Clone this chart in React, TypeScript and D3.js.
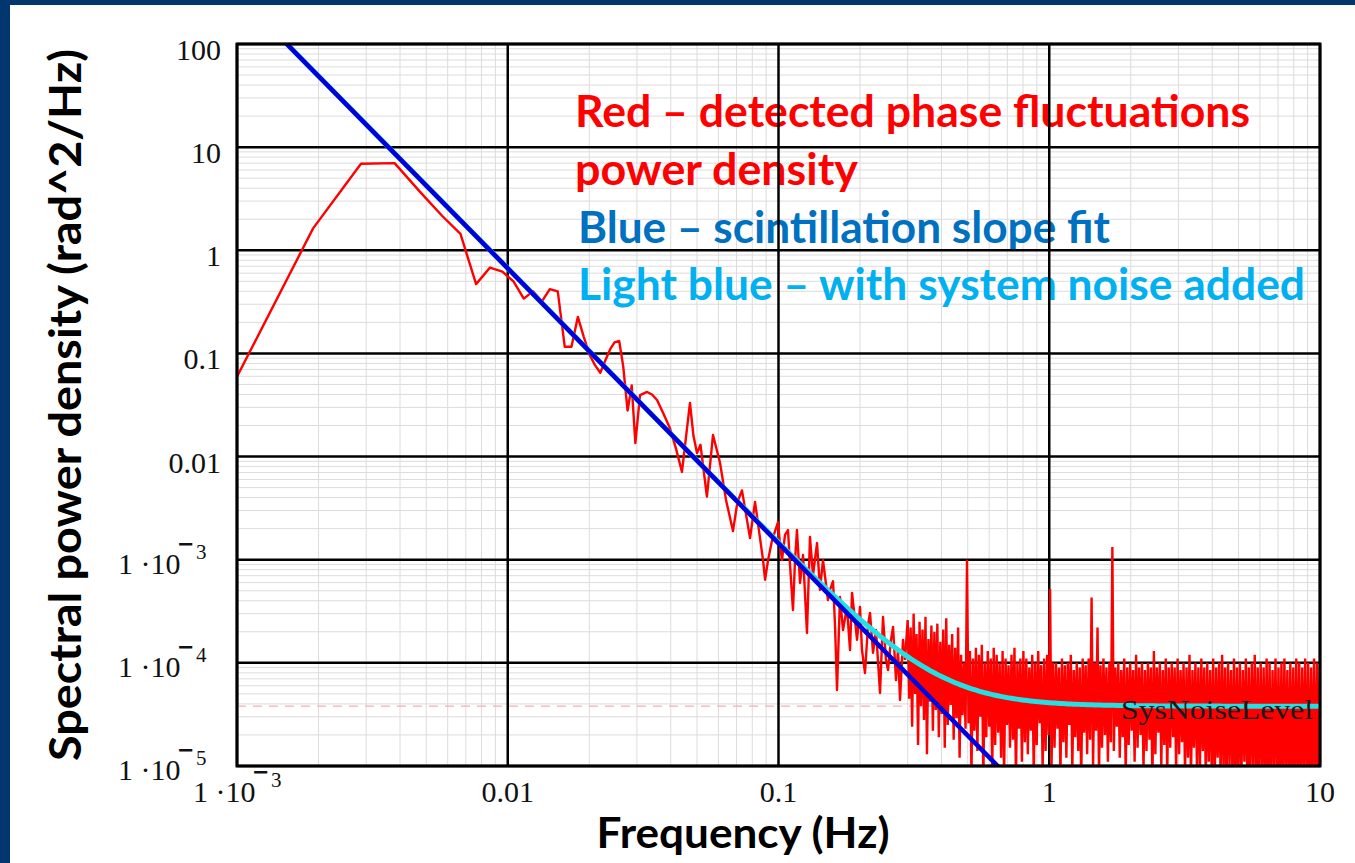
import React from "react";
import * as d3 from "d3";

// ---------------- data ----------------
const xDomain: [number, number] = [1e-3, 10];
const yDomain: [number, number] = [1e-5, 100];
const xMajorTicks = [1e-3, 1e-2, 1e-1, 1, 10];
const xTickLabels = ["1·10^-3", "0.01", "0.1", "1", "10"];
const yMajorTicks = [100, 10, 1, 0.1, 0.01, 1e-3, 1e-4, 1e-5];
const yTickLabels = ["100", "10", "1", "0.1", "0.01", "1·10^-3", "1·10^-4", "1·10^-5"];

// detected phase fluctuation PSD, low / mid frequencies (Hz, rad^2/Hz)
const redFreqLow = [
  0.000955, 0.00191, 0.00287, 0.00382, 0.00478, 0.00573, 0.00669, 0.00764, 0.0086, 0.00955,
  0.0105, 0.01146, 0.0124, 0.01337, 0.0143, 0.0153, 0.01624, 0.01719, 0.01815, 0.0191,
  0.02006, 0.021, 0.02197, 0.0229, 0.0239, 0.0248, 0.0258, 0.0267, 0.0277, 0.0287,
  0.0296, 0.0308, 0.0327, 0.0341, 0.0356, 0.0376, 0.0397, 0.0418, 0.044, 0.0471,
  0.0485, 0.05, 0.0515, 0.0544, 0.0573, 0.0608, 0.064, 0.0679, 0.0705, 0.0733,
  0.0785, 0.0819, 0.0877, 0.0892, 0.0915, 0.0947, 0.0996, 0.1013, 0.103, 0.1057,
  0.1084, 0.1103, 0.1131, 0.1151, 0.117, 0.1201, 0.1232, 0.1274, 0.1307, 0.1341,
  0.1388, 0.1423, 0.146, 0.1523, 0.155, 0.159, 0.1617, 0.1645, 0.1687, 0.1731,
  0.179, 0.1837, 0.1869, 0.1917, 0.195, 0.2, 0.2034, 0.2087, 0.2141, 0.2178,
  0.2234, 0.2292, 0.2371, 0.2432, 0.2495, 0.2538, 0.2603, 0.2649, 0.2716, 0.2763,
  0.2811, 0.2883, 0.2933,
];
const redPsdLow = [
  0.047, 1.63, 6.9, 7.0, 3.6, 2.15, 1.44, 0.47, 0.68, 0.62,
  0.5, 0.34, 0.4, 0.32, 0.42, 0.4, 0.116, 0.116, 0.226, 0.144,
  0.097, 0.077, 0.065, 0.085, 0.11, 0.128, 0.132, 0.075, 0.028, 0.049,
  0.0135, 0.0395, 0.0423, 0.04, 0.0354, 0.026, 0.0189, 0.012, 0.0071, 0.0331,
  0.016, 0.0108, 0.013, 0.0041, 0.0162, 0.0087, 0.0038, 0.0019, 0.0036, 0.0047,
  0.00162, 0.00363, 0.00099, 0.00064, 0.00099, 0.00155, 0.00232, 0.00139, 0.00099, 0.00174,
  0.00194, 0.00089, 0.000325, 0.00099, 0.00194, 0.000595, 0.00111, 0.000195, 0.00166, 0.00071,
  0.00145, 0.000509, 0.00099, 0.000407, 0.000509, 0.00062, 0.000233, 5.46e-5, 0.000435, 0.000208,
  0.000348, 0.000133, 0.000476, 0.00026, 0.000167, 0.000348, 0.000133, 7.97e-5, 0.000233, 0.000304,
  0.000125, 0.000208, 5.1e-5, 0.000278, 0.000107, 8.5e-5, 0.000167, 0.000223, 6.8e-5, 0.000133,
  4.36e-5, 0.000167, 0.000107,
];

// dense noise band 0.3 – 10 Hz: per log-spaced column, local maximum and minimum
const bandStartHz = 0.3;
const bandEndHz = 10;
const bandHigh = [
  26e-5, 22e-5, 30e-5, 19e-5, 25e-5, 21e-5, 28e-5, 17e-5, 23e-5, 20e-5,
  24e-5, 16e-5, 21e-5, 27e-5, 15e-5, 19e-5, 14e-5, 22e-5, 12e-5, 10e-5,
  100e-5, 13e-5, 11e-5, 14e-5, 12e-5, 15e-5, 10e-5, 13e-5, 11e-5, 14e-5,
  12e-5, 10e-5, 13e-5, 11e-5, 9.5e-5, 12e-5, 14e-5, 10e-5, 11e-5, 13e-5,
  11e-5, 9e-5, 12e-5, 10e-5, 13e-5, 9.5e-5, 11e-5, 12e-5, 52e-5, 10e-5,
  10e-5, 9e-5, 11e-5, 9.5e-5, 10e-5, 12e-5, 8.5e-5, 10e-5, 9e-5, 11e-5,
  9.5e-5, 11e-5, 43e-5, 10e-5, 22e-5, 9.5e-5, 11e-5, 9e-5, 10e-5, 133e-5,
  9e-5, 10e-5, 8.5e-5, 11e-5, 9e-5, 10e-5, 8.5e-5, 12e-5, 9e-5, 10e-5,
  8.5e-5, 10e-5, 9e-5, 13e-5, 9e-5, 10e-5, 8.5e-5, 11e-5, 9e-5, 10e-5,
  9e-5, 11e-5, 8.5e-5, 10e-5, 9e-5, 12e-5, 8.5e-5, 10e-5, 9e-5, 11e-5,
  9e-5, 10e-5, 8.5e-5, 11e-5, 9e-5, 10e-5, 12e-5, 9e-5, 10e-5, 8.5e-5,
  11e-5, 9e-5, 10e-5, 8.5e-5, 11e-5, 9e-5, 10e-5, 12e-5, 9e-5, 10e-5,
  9e-5, 11e-5, 10e-5, 8.5e-5, 11e-5, 9e-5, 10e-5, 11e-5, 8.5e-5, 10e-5,
  9e-5, 11e-5, 10e-5, 9e-5, 11e-5, 10e-5, 9e-5, 11e-5, 10e-5, 9e-5,
];
const bandLow = [
  4.5e-5, 2.4e-5, 5e-5, 1.6e-5, 3.8e-5, 2.8e-5, 1.3e-5, 4.2e-5, 2.2e-5, 3.5e-5,
  1.9e-5, 3.2e-5, 1.5e-5, 2.5e-5, 3.9e-5, 1.8e-5, 2.9e-5, 1.2e-5, 3.1e-5, 2.3e-5,
  2.6e-5, 0.8e-5, 2.2e-5, 1.4e-5, 3e-5, 0.7e-5, 1.9e-5, 2.4e-5, 0.9e-5, 1.6e-5,
  2.1e-5, 1.2e-5, 0.8e-5, 2.5e-5, 1.5e-5, 1.8e-5, 0.7e-5, 2.3e-5, 1.1e-5, 1.7e-5,
  1.3e-5, 2.2e-5, 0.8e-5, 1.6e-5, 2.6e-5, 0.9e-5, 1.4e-5, 2e-5, 1e-5, 1.5e-5,
  2.3e-5, 0.8e-5, 1.7e-5, 1.2e-5, 2.5e-5, 0.9e-5, 1.9e-5, 1.4e-5, 0.7e-5, 2.1e-5,
  1.3e-5, 1.8e-5, 1e-5, 2.2e-5, 0.8e-5, 1.5e-5, 2e-5, 1.1e-5, 1.7e-5, 1.4e-5,
  2.4e-5, 1.2e-5, 1.9e-5, 0.8e-5, 1.6e-5, 2.2e-5, 1.1e-5, 1.5e-5, 2e-5, 0.9e-5,
  1.4e-5, 1.8e-5, 0.7e-5, 1.3e-5, 2.1e-5, 1e-5, 1.6e-5, 0.8e-5, 1.5e-5, 1.9e-5,
  0.9e-5, 1.3e-5, 1.7e-5, 0.8e-5, 1.2e-5, 0.7e-5, 1.5e-5, 1e-5, 0.8e-5, 1.4e-5,
  0.7e-5, 1.1e-5, 0.8e-5, 0.6e-5, 1.2e-5, 0.7e-5, 0.9e-5, 0.6e-5, 1e-5, 0.7e-5,
  0.6e-5, 0.8e-5, 0.7e-5, 1.1e-5, 0.6e-5, 0.7e-5, 0.9e-5, 0.6e-5, 0.7e-5, 0.8e-5,
  0.6e-5, 0.7e-5, 0.6e-5, 0.9e-5, 0.6e-5, 0.7e-5, 0.6e-5, 0.8e-5, 0.6e-5, 0.7e-5,
  0.6e-5, 0.7e-5, 0.6e-5, 0.8e-5, 0.6e-5, 0.6e-5, 0.7e-5, 0.6e-5, 0.6e-5, 0.7e-5,
];

// scintillation slope fit  S = C * f^slope, plus system noise floor
const fitCoef = 3.1e-6;
const fitSlope = -8 / 3;
const sysNoiseLevel = 3.8e-5;

const legendLines = [
  "Red – detected phase fluctuations",
  "power density",
  "Blue – scintillation slope fit",
  "Light blue – with system noise added",
];
const legendColors = ["#ff0000", "#ff0000", "#0070c0", "#00b0f0"];
const legendWidths = [675, 283, 532, 727];

// ---------------- chart ----------------
const W = 1355;
const H = 863;
const PL = 237, PR = 1320, PT = 44, PB = 766;
const SERIF = "'Liberation Serif', 'Times New Roman', serif";
const SANS = "Lato, 'Open Sans', sans-serif";

function TickLabel({ text, x, y, anchor, fs }: any) {
  if (text.includes("^")) {
    const [mant, exp] = text.split("^");
    const m = mant.replace("·", " ·");
    const digit = exp.replace("-", "");
    return (
      <text x={x} y={y} fontFamily={SERIF} fontSize={fs} fill="#111">
        {m}
        <tspan
          x={x + 59}
          y={y - 23}
          fontFamily="'DejaVu Serif', serif"
          fontSize={21}
          fontWeight={700}
        >
          −
        </tspan>
        <tspan x={x + 78} y={y - 15} fontSize={21}>
          {digit}
        </tspan>
      </text>
    );
  }
  return (
    <text x={x} y={y} textAnchor={anchor} fontFamily={SERIF} fontSize={fs} fill="#111">
      {text}
    </text>
  );
}

export default function App() {
  const x = d3.scaleLog().domain(xDomain).range([PL, PR]);
  const y = d3.scaleLog().domain(yDomain).range([PB, PT]);

  const xMinor: number[] = [];
  for (let d = -3; d < 1; d++) for (let m = 2; m <= 9; m++) xMinor.push(m * Math.pow(10, d));
  const yMinor: number[] = [];
  for (let d = -5; d < 2; d++) for (let m = 2; m <= 9; m++) yMinor.push(m * Math.pow(10, d));

  const line = d3
    .line<[number, number]>()
    .x((d) => x(d[0]))
    .y((d) => y(d[1]));

  const lowPts: [number, number][] = redFreqLow.map((f, i) => [f, redPsdLow[i]]);
  const n = bandHigh.length;
  const l0 = Math.log10(bandStartHz);
  const step = (Math.log10(bandEndHz) - l0) / (n - 1);
  const bandPts: [number, number][] = [lowPts[lowPts.length - 1]];
  bandHigh.forEach((v, i) => {
    bandPts.push([Math.pow(10, l0 + i * step), v]);
    bandPts.push([Math.pow(10, l0 + (i + 0.5) * step), bandLow[i]]);
  });

  const fitFreqs = d3.range(0, 401).map((i) => Math.pow(10, -3 + (4 * i) / 400));
  const bluePts: [number, number][] = fitFreqs.map((f) => [f, fitCoef * Math.pow(f, fitSlope)]);
  const cyanPts: [number, number][] = fitFreqs.map((f) => [
    f,
    fitCoef * Math.pow(f, fitSlope) + sysNoiseLevel,
  ]);

  const legendBaselines = [127, 185, 243, 300];

  return (
    <svg
      width={W}
      height={H}
      viewBox={`0 0 ${W} ${H}`}
      style={{ position: "absolute", left: 0, top: 0, background: "#fff" }}
    >
      <defs>
        <clipPath id="plotClip">
          <rect x={PL} y={PT} width={PR - PL} height={PB - PT} />
        </clipPath>
      </defs>
      <rect x={0} y={0} width={W} height={H} fill="#ffffff" />
      <rect x={0} y={0} width={W} height={5} fill="#02366f" />
      <rect x={0} y={0} width={10} height={H} fill="#02366f" />

      {/* minor grid */}
      <g stroke="#dcdcdc" strokeWidth={1}>
        {xMinor.map((v, i) => (
          <line key={"xm" + i} x1={x(v)} x2={x(v)} y1={PT} y2={PB} />
        ))}
        {yMinor.map((v, i) => (
          <line key={"ym" + i} x1={PL} x2={PR} y1={y(v)} y2={y(v)} />
        ))}
      </g>

      {/* legend text */}
      <g fontFamily={SANS} fontWeight={700} fontSize={43}>
        {legendLines.map((t, i) => (
          <text
            key={"lg" + i}
            x={i < 2 ? 575 : 578}
            y={legendBaselines[i]}
            fill={legendColors[i]}
            textLength={legendWidths[i]}
            lengthAdjust="spacingAndGlyphs"
          >
            {t}
          </text>
        ))}
      </g>

      {/* major grid */}
      <g stroke="#000" strokeWidth={2.5}>
        {xMajorTicks.map((v, i) => (
          <line key={"xM" + i} x1={x(v)} x2={x(v)} y1={PT} y2={PB} />
        ))}
        {yMajorTicks.map((v, i) => (
          <line key={"yM" + i} x1={PL} x2={PR} y1={y(v)} y2={y(v)} />
        ))}
      </g>

      <g clipPath="url(#plotClip)">
        <line
          x1={PL}
          x2={PR}
          y1={y(sysNoiseLevel)}
          y2={y(sysNoiseLevel)}
          stroke="#f0b0b0"
          strokeWidth={1.2}
          strokeDasharray="9 7"
        />
        <path d={line(lowPts) || ""} fill="none" stroke="#ff0000" strokeWidth={2.4} strokeLinejoin="round" />
        <path d={line(bandPts) || ""} fill="none" stroke="#ff0000" strokeWidth={2.4} strokeLinejoin="miter" />
        <path d={line(cyanPts) || ""} fill="none" stroke="#22e0e4" strokeWidth={5} />
        <path d={line(bluePts) || ""} fill="none" stroke="#0000dd" strokeWidth={4.5} />
      </g>

      <text
        x={1313}
        y={719}
        textAnchor="end"
        fontFamily={SERIF}
        fontSize={27}
        fill="#1a1a1a"
        textLength={192}
        lengthAdjust="spacingAndGlyphs"
      >
        SysNoiseLevel
      </text>

      {/* frame */}
      <rect x={PL} y={PT} width={PR - PL} height={PB - PT} fill="none" stroke="#000" strokeWidth={3} />

      {/* tick labels */}
      {yMajorTicks.map((v, i) =>
        yTickLabels[i].includes("^") ? (
          <TickLabel key={"yl" + i} text={yTickLabels[i]} x={118} y={y(v) + 14} fs={30} />
        ) : (
          <TickLabel key={"yl" + i} text={yTickLabels[i]} x={221} y={y(v) + 16} anchor="end" fs={30} />
        )
      )}
      {xMajorTicks.map((v, i) =>
        xTickLabels[i].includes("^") ? (
          <TickLabel key={"xl" + i} text={xTickLabels[i]} x={x(v) - 44} y={802} fs={30} />
        ) : (
          <TickLabel key={"xl" + i} text={xTickLabels[i]} x={x(v)} y={802} anchor="middle" fs={30} />
        )
      )}

      {/* axis titles */}
      <text
        transform="translate(81,405) rotate(-90)"
        textAnchor="middle"
        fontFamily={SANS}
        fontWeight={700}
        fontSize={43}
        fill="#000"
        textLength={712}
        lengthAdjust="spacingAndGlyphs"
      >
        Spectral power density (rad^2/Hz)
      </text>
      <text
        x={743}
        y={848}
        textAnchor="middle"
        fontFamily={SANS}
        fontWeight={700}
        fontSize={42}
        fill="#000"
        textLength={293}
        lengthAdjust="spacingAndGlyphs"
      >
        Frequency (Hz)
      </text>
    </svg>
  );
}
